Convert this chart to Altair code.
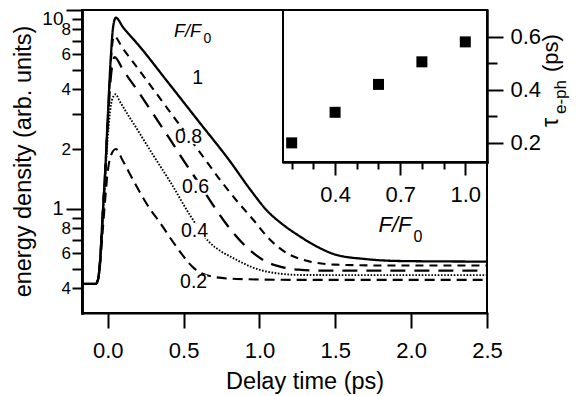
import altair as alt
import pandas as pd

# ---------------- data ----------------
series_names = ["1", "0.8", "0.6", "0.4", "0.2"]

t_10 = [-0.17, -0.08, -0.065, -0.05, -0.035, -0.02, 0.0, 0.02, 0.035, 0.053, 0.1, 0.2, 0.4, 0.6, 0.8,
        0.95, 1.05, 1.15, 1.27, 1.4, 1.5, 1.7, 1.9, 2.2, 2.5]
v_10 = [0.42, 0.42, 0.44, 0.56, 0.9, 1.4, 2.9, 5.8, 8.2, 9.15, 8.2, 6.7, 4.3, 2.75, 1.76,
        1.22, 0.98, 0.84, 0.725, 0.635, 0.59, 0.56, 0.548, 0.545, 0.544]

t_08 = [-0.17, -0.08, -0.065, -0.05, -0.035, -0.02, 0.0, 0.02, 0.04, 0.1, 0.2, 0.4, 0.6, 0.75, 0.85,
        0.96, 1.07, 1.18, 1.33, 1.5, 1.8, 2.5]
v_08 = [0.42, 0.42, 0.44, 0.56, 0.9, 1.4, 2.8, 5.5, 7.4, 6.4, 5.06, 3.15, 1.96, 1.37, 1.1,
        0.88, 0.70, 0.60, 0.545, 0.525, 0.52, 0.52]

t_06 = [-0.17, -0.08, -0.065, -0.05, -0.035, -0.02, 0.0, 0.02, 0.045, 0.1, 0.2, 0.3, 0.4, 0.52, 0.6,
        0.7, 0.82, 0.96, 1.04, 1.15, 1.26, 1.4, 1.7, 2.5]
v_06 = [0.42, 0.42, 0.44, 0.56, 0.9, 1.4, 2.7, 4.6, 5.8, 5.0, 3.9, 3.0, 2.3, 1.66, 1.35,
        1.03, 0.77, 0.60, 0.545, 0.51, 0.495, 0.49, 0.49, 0.49]

t_04 = [-0.17, -0.08, -0.065, -0.05, -0.035, -0.02, 0.0, 0.02, 0.035, 0.053, 0.074, 0.2, 0.3, 0.414,
        0.546, 0.666, 0.75, 0.83, 0.95, 1.05, 1.27, 1.6, 2.5]
v_04 = [0.42, 0.42, 0.44, 0.55, 0.85, 1.3, 2.3, 3.3, 3.65, 3.77, 3.53, 2.47, 1.86, 1.36,
        0.92, 0.685, 0.61, 0.565, 0.51, 0.484, 0.466, 0.465, 0.465]

t_02 = [-0.17, -0.08, -0.065, -0.05, -0.035, -0.02, 0.0, 0.02, 0.053, 0.1, 0.173, 0.26, 0.35, 0.45,
        0.568, 0.69, 0.85, 1.27, 2.5]
v_02 = [0.42, 0.42, 0.44, 0.53, 0.75, 1.05, 1.55, 1.85, 2.0, 1.74, 1.37, 1.05, 0.84, 0.65,
        0.504, 0.457, 0.445, 0.44, 0.44]

inset_fluence = [0.2, 0.4, 0.6, 0.8, 1.0]
inset_tau = [0.20, 0.315, 0.42, 0.505, 0.58]

x_ticks = [0.0, 0.5, 1.0, 1.5, 2.0, 2.5]
y_long_ticks = [1]
y_top_ticks = [10]
y_mid_ticks = [0.4, 0.6, 0.8, 2, 4, 6, 8]
y_minor_ticks = [0.5, 0.7, 0.9, 3, 5, 7, 9]
inset_x_major = [0.4, 0.7, 1.0]
inset_x_minor = [0.2, 0.3, 0.5, 0.6, 0.8, 0.9]
inset_y_major = [0.2, 0.4, 0.6]
inset_y_minor = [0.3, 0.5]

label_text = ["1", "0.8", "0.6", "0.4", "0.2"]
label_t = [0.592, 0.533, 0.579, 0.572, 0.566]
label_v = [4.55, 2.30, 1.29, 0.775, 0.43]

# ---------------- styling ----------------
FONT = "Liberation Sans"
W, H = 405, 303

X_MAIN = alt.Scale(domain=[-0.17, 2.5], nice=False, zero=False)
Y_MAIN = alt.Scale(type="log", domain=[0.3, 10], nice=False)
X_IN = alt.Scale(domain=[0.16, 1.10], range=[201, 405], nice=False, zero=False)
Y_IN = alt.Scale(domain=[0.128, 0.70], range=[152, 0], nice=False, zero=False)

LOG_LABEL = "datum.value >= 1 ? format(datum.value, 'd') : format(datum.value * 10, 'd')"

curve_t = [t_10, t_08, t_06, t_04, t_02]
curve_v = [v_10, v_08, v_06, v_04, v_02]
dashes = [[1, 0], [8, 6], [15, 9], [1.6, 1.6], [10, 6]]
widths = [2.3, 2.1, 2.3, 1.9, 2.1]

X_AX = alt.Axis(values=x_ticks, format=".1f", orient="bottom", tickSize=15, labelPadding=12,
                title="Delay time (ps)", titleX=222.6, titleY=75, titleAlign="center",
                titleBaseline="alphabetic", titleAngle=0)
Y_AX = alt.Axis(values=y_long_ticks, orient="left", tickSize=16, labelPadding=3, labelFontSize=20,
                labelExpr=LOG_LABEL, title="energy density (arb. units)",
                titleX=-52, titleY=151, titleAngle=270, titleAlign="center",
                titleBaseline="alphabetic")
XI_AX = alt.Axis(values=inset_x_major, orient="bottom", offset=-151, tickSize=13, labelPadding=9,
                 format=".1f", title=None)
YI_AX = alt.Axis(values=inset_y_major, orient="right", tickSize=16, labelPadding=7, format=".1f",
                 title=None)


def mx(f):
    return alt.X(f, scale=X_MAIN, axis=X_AX, title="Delay time (ps)")


def my(f):
    return alt.Y(f, scale=Y_MAIN, axis=Y_AX, title="energy density (arb. units)")


layers_main = []
for name, ts, vs, d, w in zip(series_names, curve_t, curve_v, dashes, widths):
    df = pd.DataFrame({"t": ts, "v": vs})
    layers_main.append(
        alt.Chart(df).mark_line(color="black", strokeWidth=w, strokeDash=d, strokeCap="butt",
                                interpolate="monotone", clip=True)
        .encode(x=mx("t:Q"), y=my("v:Q"))
    )

lab_df = pd.DataFrame({"t": label_t, "v": label_v, "txt": label_text})
box_df = lab_df[lab_df["txt"] != "1"]
boxes = alt.Chart(box_df).mark_point(
    shape="M-1.5,-0.8L1.5,-0.8L1.5,0.8L-1.5,0.8Z", filled=True, color="white", opacity=1,
    size=324, strokeWidth=0
).encode(x=mx("t:Q"), y=my("v:Q"))
labels = alt.Chart(lab_df).mark_text(font=FONT, fontSize=19.5, color="black", align="center",
                                     baseline="middle").encode(
    x=mx("t:Q"), y=my("v:Q"), text="txt:N")

main = alt.layer(*layers_main, boxes, labels)


def tick_layer(vals, **kw):
    return alt.Chart(pd.DataFrame({"v": vals})).mark_point(opacity=0).encode(
        y=alt.Y("v:Q", scale=Y_MAIN, axis=alt.Axis(values=vals, orient="left", title=None, **kw)))


ytop = tick_layer(y_top_ticks, tickSize=16, labelPadding=3, labelExpr=LOG_LABEL, labelOffset=8,
                  labelFontSize=19)
ymid = tick_layer(y_mid_ticks, tickSize=10, labelPadding=1.5, labelExpr=LOG_LABEL, labelFontSize=17)
yminor = tick_layer(y_minor_ticks, tickSize=10, labels=False)

# ---------------- inset ----------------
inset_df = pd.DataFrame({"f": inset_fluence, "tau": inset_tau})
inset_frame = alt.Chart(pd.DataFrame({"x0": [0.16], "x1": [1.10], "y0": [0.128], "y1": [0.70]})).mark_rect(
    fill="white", stroke="black", strokeWidth=2
).encode(
    x=alt.X("x0:Q", scale=X_IN, axis=XI_AX),
    x2="x1:Q",
    y=alt.Y("y0:Q", scale=Y_IN, axis=YI_AX),
    y2="y1:Q",
)
inset_pts = alt.Chart(inset_df).mark_point(shape="square", filled=True, color="black", size=121,
                                           opacity=1).encode(
    x=alt.X("f:Q", scale=X_IN, axis=XI_AX), y=alt.Y("tau:Q", scale=Y_IN, axis=YI_AX))
inset = alt.layer(inset_frame, inset_pts)

inx_minor = alt.Chart(pd.DataFrame({"f": inset_x_minor})).mark_point(opacity=0).encode(
    x=alt.X("f:Q", scale=X_IN, axis=alt.Axis(values=inset_x_minor, orient="bottom", offset=-151,
                                            tickSize=7, labels=False, title=None)))
iny_minor = alt.Chart(pd.DataFrame({"tau": inset_y_minor})).mark_point(opacity=0).encode(
    y=alt.Y("tau:Q", scale=Y_IN, axis=alt.Axis(values=inset_y_minor, orient="right", tickSize=10,
                                              labels=False, title=None)))

# ---------------- titles with sub-scripts ----------------
one = pd.DataFrame({"a": [0]})


def txt(s, x, y, size, angle=0, italic=False, align="center"):
    return alt.Chart(one).mark_text(text=s, font=FONT, fontSize=size, color="black", align=align,
                                    baseline="alphabetic", angle=angle,
                                    fontStyle="italic" if italic else "normal").encode(
        x=alt.value(x), y=alt.value(y))


titles = [
    txt("F/F", 105.5, 27, 18, italic=True),
    txt("0", 125.5, 33, 14),
    txt("F/F", 313, 222, 22, italic=True),
    txt("0", 336, 232, 16),
    txt("τ", 476, 117, 23, angle=270, align="left"),
    txt("e-ph", 484, 104, 17, angle=270, align="left"),
    txt("(ps)", 476, 62, 22, angle=270, align="left"),
]

chart = alt.layer(main, ytop, ymid, yminor, inset, inx_minor, iny_minor, *titles).resolve_scale(
    x="independent", y="independent"
).properties(
    width=W, height=H, padding={"left": 74, "top": 2, "right": 84, "bottom": 86},
    autosize=alt.AutoSizeParams(type="none"),
).configure_view(stroke="black", strokeWidth=2).configure_axis(
    domainColor="black", domainWidth=2, tickColor="black", tickWidth=2, labelColor="black",
    labelFont=FONT, labelFontSize=22, titleFont=FONT, titleFontSize=23.5, titleFontWeight="normal",
    titleColor="black", grid=False, labelFlush=False, labelOverlap=False, domainCap="square",
)

chart.save("out.html", embed_options={"renderer": "svg", "actions": False})
